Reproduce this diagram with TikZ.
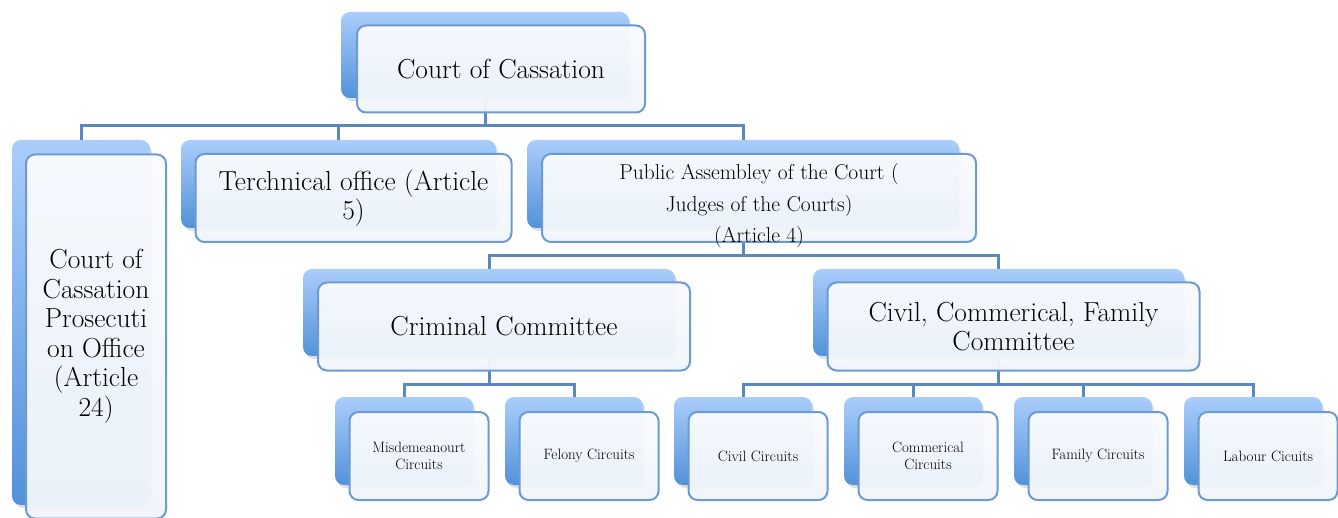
\documentclass[tikz,border=0pt]{standalone}
\usetikzlibrary{positioning,shadows}
\definecolor{lineColor}{HTML}{5A88BF}
\definecolor{edgeColor}{HTML}{6C9BD2}
\definecolor{backTop}{HTML}{AACDFB}
\definecolor{backBot}{HTML}{5292D9}
\definecolor{faceTop}{HTML}{F9FBFE}
\definecolor{faceBot}{HTML}{F0F5FB}
\tikzset{
	back/.style={rounded corners=9pt, top color=backTop, bottom color=backBot, draw=none, inner sep=0,
		drop shadow={opacity=0.25, shadow xshift=2pt, shadow yshift=-3pt}},
	face/.style={rounded corners=9pt, draw=edgeColor, line width=2pt, top color=faceTop, bottom color=faceBot,
		fill opacity=0.96, text opacity=1, align=center, inner sep=1pt},
	conn/.style={draw=lineColor, line width=3pt},
	big/.style={font=\fontsize{27.5}{29.5}\selectfont},
	mid/.style={font=\fontsize{21.5}{31.5}\selectfont},
	small/.style={font=\fontsize{15}{17}\selectfont}
}

\begin{document}
\begin{tikzpicture}[x=1pt, y=-1pt]
\useasboundingbox (0,0) rectangle (1338,518);
% blue boxes behind
\node[back, minimum width=288, minimum height=86] (ccB) at (485, 55) {};
\node[back, minimum width=138, minimum height=365] (ccpoB) at (81, 322.5) {};
\node[back, minimum width=315, minimum height=88] (techB) at (338.5, 184) {};
\node[back, minimum width=432, minimum height=88] (pubB) at (743, 184) {};
\node[back, minimum width=372, minimum height=87] (crimB) at (489, 312.5) {};
\node[back, minimum width=371, minimum height=87] (civB) at (998.5, 312.5) {};
\node[back, minimum width=138, minimum height=88] (misdB) at (404, 441) {};
\node[back, minimum width=138, minimum height=88] (felB) at (574, 441) {};
\node[back, minimum width=138, minimum height=88] (civcB) at (743, 441) {};
\node[back, minimum width=138, minimum height=88] (commB) at (913, 441) {};
\node[back, minimum width=138, minimum height=88] (famB) at (1083, 441) {};
\node[back, minimum width=138, minimum height=88] (labB) at (1253, 441) {};
% connectors
\draw[conn] (ccB.south) -- ++(0,27) -| (ccpoB.north);
\draw[conn] (ccB.south) -- ++(0,27) -| (techB.north);
\draw[conn] (ccB.south) -- ++(0,27) -| (pubB.north);
\draw[conn] (pubB.south) -- ++(0,27) -| (crimB.north);
\draw[conn] (pubB.south) -- ++(0,27) -| (civB.north);
\draw[conn] (crimB.south) -- ++(0,28) -| (misdB.north);
\draw[conn] (crimB.south) -- ++(0,28) -| (felB.north);
\draw[conn] (civB.south) -- ++(0,28) -| (civcB.north);
\draw[conn] (civB.south) -- ++(0,28) -| (commB.north);
\draw[conn] (civB.south) -- ++(0,28) -| (famB.north);
\draw[conn] (civB.south) -- ++(0,28) -| (labB.north);
% white boxes in front
\node[face, big, minimum width=288, minimum height=87] (cc) at ([shift={(16,14)}]ccB) {Court of Cassation};
\node[face, big, minimum width=140, minimum height=364] (ccpo) at ([shift={(15,14)}]ccpoB) {Court of\\Cassation\\Prosecuti\\on Office\\(Article\\24)};
\node[face, big, minimum width=316, minimum height=88] (tech) at ([shift={(15,14)}]techB) {Terchnical office (Article\\5)};
\node[face, mid, minimum width=434, minimum height=88] (pub) at ([shift={(16,14)}]pubB) {\raisebox{-12pt}[0pt][0pt]{\begin{tabular}{@{}c@{}} Public Assembley of the Court (\\ Judges of the Courts)\\ (Article 4)\end{tabular}}};
\node[face, big, minimum width=372, minimum height=88] (crim) at ([shift={(15,14)}]crimB) {Criminal Committee};
\node[face, big, minimum width=372, minimum height=88] (civ) at ([shift={(15,14)}]civB) {Civil, Commerical, Family\\Committee};
\node[face, small, minimum width=139, minimum height=88] (misd) at ([shift={(15,15)}]misdB) {Misdemeanourt\\Circuits};
\node[face, small, minimum width=139, minimum height=88] (fel) at ([shift={(15,15)}]felB) {Felony Circuits};
\node[face, small, minimum width=139, minimum height=88] (civc) at ([shift={(15,15)}]civcB) {Civil Circuits};
\node[face, small, minimum width=139, minimum height=88] (comm) at ([shift={(15,15)}]commB) {Commerical\\Circuits};
\node[face, small, minimum width=139, minimum height=88] (fam) at ([shift={(15,15)}]famB) {Family Circuits};
\node[face, small, minimum width=139, minimum height=88] (lab) at ([shift={(15,15)}]labB) {Labour Cicuits};
\end{tikzpicture}
\end{document}
